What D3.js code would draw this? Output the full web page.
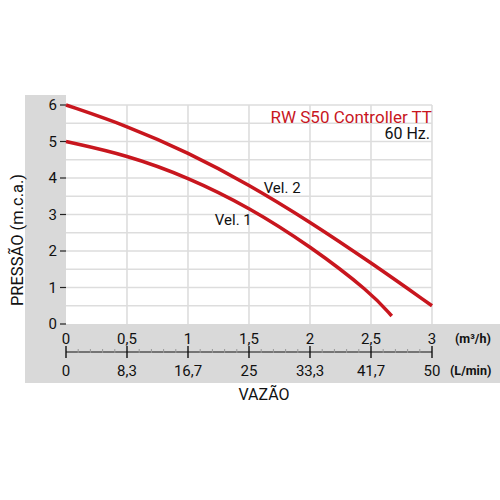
<!DOCTYPE html>
<html><head><meta charset="utf-8">
<script src="https://cdn.jsdelivr.net/npm/d3@7"></script>
<style>body{margin:0;background:#fff}svg{display:block;font-family:Roboto,"Noto Sans",sans-serif}</style>
</head><body><svg id="c" width="500" height="500"></svg>
<script>
const flowM3h = [0, 0.5, 1, 1.5, 2, 2.5, 3];
const vel2 = [6.0, 5.43, 4.7, 3.82, 2.8, 1.68, 0.5];
const flowVel1 = [0, 0.5, 1, 1.5, 2, 2.5, 2.67];
const vel1 = [5.0, 4.63, 4.02, 3.2, 2.14, 0.86, 0.22];
const topTicks = ["0", "0,5", "1", "1,5", "2", "2,5", "3"];
const bottomTicks = ["0", "8,3", "16,7", "25", "33,3", "41,7", "50"];
const yTicks = [0, 1, 2, 3, 4, 5, 6];

const svg = d3.select("#c");
const x = d3.scaleLinear().domain([0, 3]).range([66, 432]);
const y = d3.scaleLinear().domain([0, 6]).range([324, 105]);
const red = "#c8161e";
const gray = "#d9d9d9";

svg.append("rect").attr("x", 25).attr("y", 95).attr("width", 41).attr("height", 288).attr("fill", gray);
svg.append("rect").attr("x", 25).attr("y", 324).attr("width", 475).attr("height", 59).attr("fill", gray);

// grid
const g = svg.append("g").attr("stroke", "#dddddd").attr("stroke-width", 1.6);
d3.range(1, 7).map(i => i * 0.5).forEach(v => {
  g.append("line").attr("x1", x(v)).attr("x2", x(v)).attr("y1", y(6)).attr("y2", y(0));
});
d3.range(1, 13).map(i => i * 0.5).forEach(v => {
  g.append("line").attr("x1", x(0)).attr("x2", x(3)).attr("y1", y(v)).attr("y2", y(v));
});

// y axis ticks & labels
yTicks.forEach(v => {
  svg.append("line").attr("x1", 60).attr("x2", 66).attr("y1", y(v)).attr("y2", y(v)).attr("stroke", "#222").attr("stroke-width", 1.2);
  svg.append("text").attr("x", 57).attr("y", y(v)).attr("dy", "0.35em").attr("text-anchor", "end")
    .attr("font-size", 15).attr("fill", "#111").text(v);
});

// x axis
const axY = 352;
svg.append("line").attr("x1", x(0)).attr("x2", x(3)).attr("y1", axY).attr("y2", axY).attr("stroke", "#111").attr("stroke-width", 1.2);
d3.range(0, 31).forEach(i => {
  const v = i / 10;
  if (i % 5 === 0) {
    svg.append("line").attr("x1", x(v)).attr("x2", x(v)).attr("y1", axY - 6).attr("y2", axY + 6).attr("stroke", "#111").attr("stroke-width", 1.4);
  } else {
    svg.append("line").attr("x1", x(v)).attr("x2", x(v)).attr("y1", axY - 3).attr("y2", axY + 1).attr("stroke", "#999").attr("stroke-width", 1);
  }
});
flowM3h.forEach((v, i) => {
  svg.append("text").attr("x", x(v)).attr("y", 339).attr("dy", "0.35em").attr("text-anchor", "middle")
    .attr("font-size", 15).attr("fill", "#111").text(topTicks[i]);
  svg.append("text").attr("x", x(v)).attr("y", 371).attr("dy", "0.35em").attr("text-anchor", "middle")
    .attr("font-size", 15).attr("fill", "#111").text(bottomTicks[i]);
});
svg.append("text").attr("x", 455).attr("y", 339).attr("dy", "0.35em").attr("font-size", 12.5).attr("font-weight", "bold").attr("fill", "#111").text("(m³/h)");
svg.append("text").attr("x", 450).attr("y", 371).attr("dy", "0.35em").attr("font-size", 12.5).attr("font-weight", "bold").attr("fill", "#111").text("(L/min)");

svg.append("text").attr("x", 264).attr("y", 394).attr("dy", "0.35em").attr("text-anchor", "middle").attr("font-size", 16).attr("fill", "#111").text("VAZÃO");
svg.append("text").attr("transform", "translate(17,240) rotate(-90)").attr("dy", "0.35em").attr("text-anchor", "middle").attr("font-size", 16.5).attr("fill", "#111").text("PRESSÃO (m.c.a.)");

// curves
const line = d3.line().x(d => x(d[0])).y(d => y(d[1])).curve(d3.curveBasis);
svg.append("path").attr("d", line(flowM3h.map((f, i) => [f, vel2[i]]))).attr("fill", "none").attr("stroke", red).attr("stroke-width", 3.5);
svg.append("path").attr("d", line(flowVel1.map((f, i) => [f, vel1[i]]))).attr("fill", "none").attr("stroke", red).attr("stroke-width", 3.5);

svg.append("text").attr("x", x(1.62)).attr("y", y(3.6)).attr("font-size", 15).attr("fill", "#111").text("Vel. 2");
svg.append("text").attr("x", x(1.22)).attr("y", y(2.71)).attr("font-size", 15).attr("fill", "#111").text("Vel. 1");

svg.append("text").attr("x", 432).attr("y", 123).attr("text-anchor", "end").attr("font-size", 17).attr("fill", red).text("RW S50 Controller TT");
svg.append("text").attr("x", 430).attr("y", 138.5).attr("text-anchor", "end").attr("font-size", 16).attr("fill", "#111").text("60 Hz.");
</script></body></html>
